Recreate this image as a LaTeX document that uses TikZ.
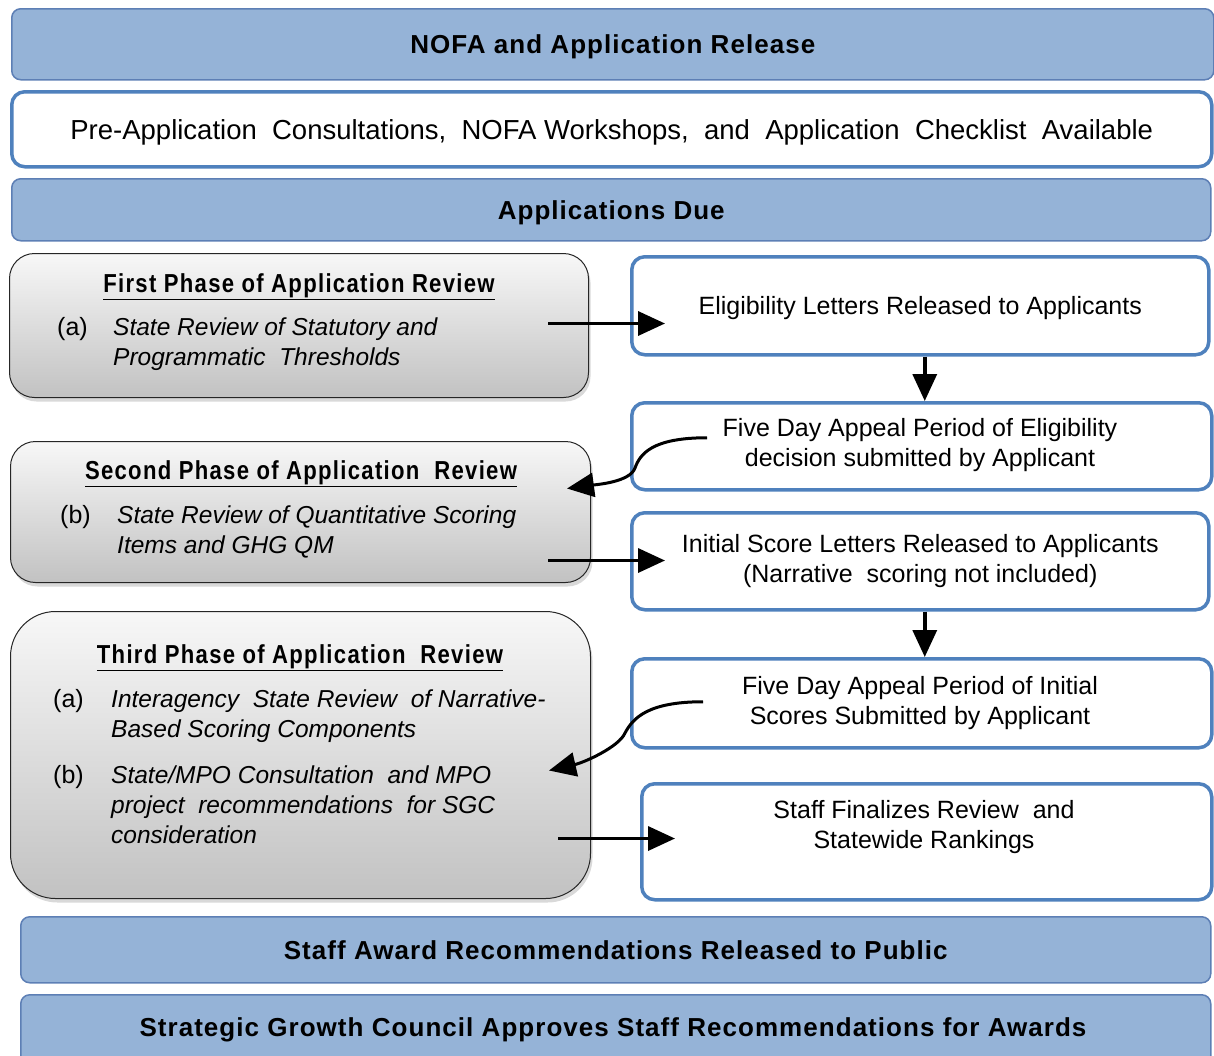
\documentclass[tikz,border=0pt]{standalone}
\usepackage{fontspec}
\setmainfont{Liberation Sans}
\newfontfamily\narrowfont[FakeStretch=0.85,LetterSpace=5]{Liberation Sans}
\newfontfamily\barfont[LetterSpace=4]{Liberation Sans}
\usetikzlibrary{shadows,arrows.meta}
\definecolor{barfill}{HTML}{95B3D7}
\definecolor{bardraw}{HTML}{5D7FB5}
\definecolor{boxdraw}{HTML}{4F81BD}
\tikzset{
  bar/.style={draw=bardraw, line width=1.5pt, fill=barfill, rounded corners=9pt,
    anchor=north west, inner sep=0pt, text depth=0pt, font=\fontsize{26}{28}\barfont\bfseries},
  wbox/.style={draw=boxdraw, line width=3.5pt, fill=white, rounded corners=13pt,
    anchor=north west, inner sep=0pt, align=center, font=\fontsize{25}{30}\selectfont},
  gbox/.style={draw=black!85, line width=1pt, top color=gray!6, bottom color=gray!48,
    anchor=north west, inner sep=0pt,
    drop shadow={opacity=0.3, shadow xshift=2pt, shadow yshift=-4pt}},
  head/.style={anchor=center, inner sep=0pt, font=\fontsize{26}{30}\narrowfont\bfseries},
  lab/.style={anchor=north west, inner sep=0pt, font=\fontsize{25}{30}\selectfont},
  item/.style={anchor=north west, inner sep=0pt, align=left, font=\fontsize{24.5}{30}\selectfont\itshape},
  rtext/.style={inner sep=0pt, align=center, font=\fontsize{25}{30}\selectfont},
  flow/.style={line width=3.5pt, -{Triangle[length=27pt,width=24pt]}},
  cflow/.style={line width=3pt, -{Triangle[length=27pt,width=24pt]}},
}
\begin{document}
\begin{tikzpicture}[x=1pt,y=-1pt]
\useasboundingbox (0,0) rectangle (1214,1055);
\begin{scope}
\clip (0,0) rectangle (1214,1055);
% bars
\node[bar, minimum width=1202pt, minimum height=71pt] (nofa) at (11,8) {NOFA and Application Release};
\node[wbox, minimum width=1200pt, minimum height=75pt, text depth=0pt, font=\fontsize{27.5}{30}\selectfont] (pre) at (10,90)
  {Pre-Application\ \ Consultations,\ \ NOFA Workshops,\ \ and\ \ Application\ \ Checklist\ \ Available};
\node[bar, minimum width=1199pt, minimum height=62pt] (due) at (11,178) {Applications Due};
\node[bar, minimum width=1190pt, minimum height=66pt] (award) at (20,916) {Staff Award Recommendations Released to Public};
\node[bar, minimum width=1190pt, minimum height=70pt] (sgc) at (20,994) {};
\node[inner sep=0pt, text depth=0pt, font=\fontsize{26}{28}\barfont\bfseries] (sgct) at (613,1027) {Strategic Growth Council Approves Staff Recommendations for Awards};
\end{scope}

% grey boxes
\node[gbox, rounded corners=25pt, minimum width=579pt, minimum height=144pt] (g1) at (9,253) {};
\node[head] (g1h) at (299,287) {\underline{First Phase of Application Review}};
\node[lab] (g1a) at (57,317) {(a)};
\node[item] (g1i) at (113,318) {State Review of Statutory and\\Programmatic\ \ Thresholds};

\node[gbox, rounded corners=25pt, minimum width=580pt, minimum height=141pt] (g2) at (10,441) {};
\node[head] (g2h) at (301,474) {\underline{Second Phase of Application\ \ Review}};
\node[lab] (g2a) at (60,505) {(b)};
\node[item] (g2i) at (117,506) {State Review of Quantitative Scoring\\Items and GHG QM};

\node[gbox, rounded corners=45pt, minimum width=580pt, minimum height=287pt] (g3) at (10,611) {};
\node[head] (g3h) at (300,658) {\underline{Third Phase of Application\ \ Review}};
\node[lab] (g3a) at (53,689) {(a)};
\node[item] (g3i) at (111,690) {Interagency\ \ State Review\ \ of Narrative-\\Based Scoring Components};
\node[lab] (g3b) at (53,765) {(b)};
\node[item] (g3j) at (111,766) {State/MPO Consultation\ \ and MPO\\project\ \ recommendations\ \ for SGC\\consideration};

% right boxes
\node[wbox, minimum width=577pt, minimum height=98pt, text depth=0pt] (elig) at (630,255) {Eligibility Letters Released to Applicants};
\node[wbox, minimum width=580pt, minimum height=87pt] (app1) at (630,401) {};
\node[rtext] (app1t) at (920,445) {Five Day Appeal Period of Eligibility\\decision submitted by Applicant};
\node[wbox, minimum width=577pt, minimum height=97pt] (init) at (630,511) {Initial Score Letters Released to Applicants\\(Narrative\ \ scoring not included)};
\node[wbox, minimum width=580pt, minimum height=89pt] (app2) at (630,657) {};
\node[rtext] (app2t) at (920,703) {Five Day Appeal Period of Initial\\Scores Submitted by Applicant};
\node[wbox, minimum width=570pt, minimum height=116pt] (fin) at (640,782) {};
\node[rtext] (fint) at (924,827) {Staff Finalizes Review\ \ and\\Statewide Rankings};

% connectors
\draw[flow] ([xshift=-41pt,yshift=2pt]g1.east) -- ([xshift=35pt,yshift=2pt]g1.east -| elig.west);
\draw[flow] ([xshift=4.5pt]elig.south) -- ([xshift=4.5pt]elig.south |- app1.north);
\draw[cflow] ([xshift=77pt,yshift=8.5pt]app1.west) .. controls +(-55,0) and +(5,-14) .. (635,468)
   .. controls +(-5,14) and +(30,-4) .. ([xshift=-24pt,yshift=23.5pt]g2.east);
\draw[flow] ([xshift=-43pt,yshift=-48.5pt]g2.east) -- ([xshift=35pt,yshift=-48.5pt]g2.east -| init.west);
\draw[flow] ([xshift=4.5pt]init.south) -- ([xshift=4.5pt]init.south |- app2.north);
\draw[cflow] ([xshift=73pt,yshift=1.5pt]app2.west) .. controls +(-55,0) and +(8,-15) .. (625,733)
   .. controls +(-6,14) and +(35,-8) .. ([xshift=-42pt,yshift=-15.5pt]g3.east);
\draw[flow] ([xshift=-33pt,yshift=-83.5pt]g3.east) -- ([xshift=35pt,yshift=-83.5pt]g3.east -| fin.west);
\end{tikzpicture}
\end{document}
